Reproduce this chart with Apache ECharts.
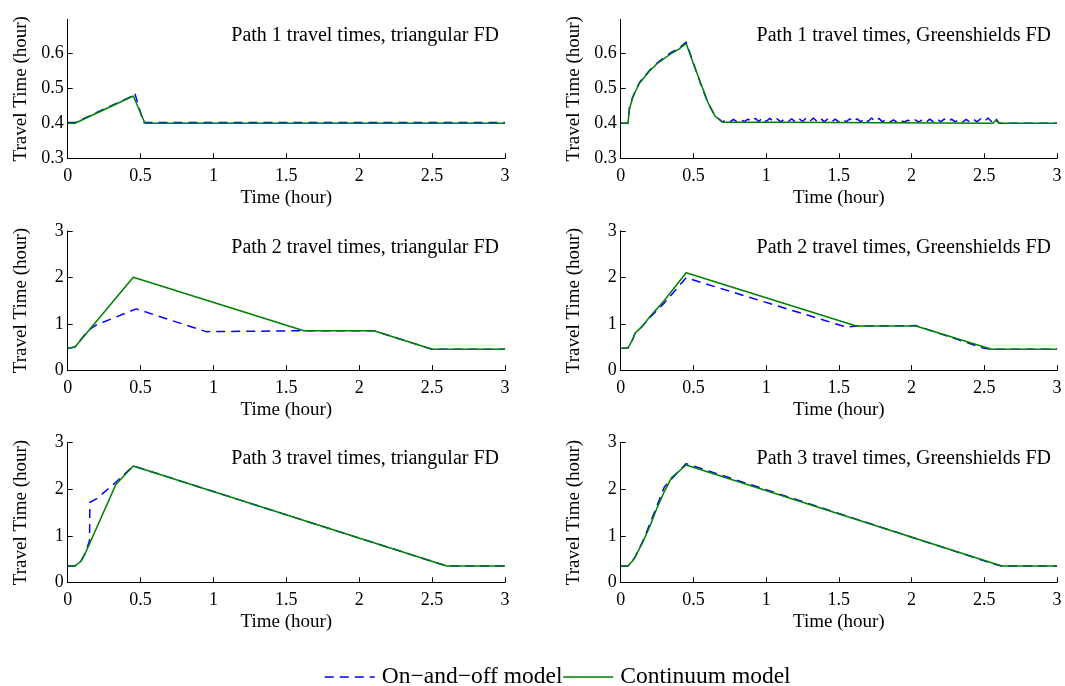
<!DOCTYPE html>
<html>
<head>
<meta charset="utf-8">
<script src="https://cdn.jsdelivr.net/npm/echarts@6/dist/echarts.min.js"></script>
<style>html,body{margin:0;padding:0;background:#fff;}#c{width:1065px;height:686px;}</style>
</head>
<body>
<div id="c"></div>
<script>
// ---- data ----
const seriesNames = ['On\u2212and\u2212off model', 'Continuum model'];
const panelTitles = [
  'Path 1 travel times, triangular FD', 'Path 1 travel times, Greenshields FD',
  'Path 2 travel times, triangular FD', 'Path 2 travel times, Greenshields FD',
  'Path 3 travel times, triangular FD', 'Path 3 travel times, Greenshields FD'
];
const xTicks = [0, 0.5, 1, 1.5, 2, 2.5, 3];
const yTicksPath1 = [0.3, 0.4, 0.5, 0.6];
const yTicksPath23 = [0, 1, 2, 3];

// Path 1, triangular
const p1TriOnOff = [[0,0.402],[0.05,0.402],[0.45,0.479],[0.46,0.486],[0.52,0.402],[3,0.402]];
const p1TriCont  = [[0,0.4],[0.05,0.4],[0.45,0.478],[0.53,0.4],[3,0.4]];

// Path 1, Greenshields
const p1GsOnOff = [[0,0.4],[0.05,0.4],[0.06,0.445],[0.08,0.472],[0.1,0.492],[0.13,0.517],[0.17,0.537],
  [0.2,0.552],[0.25,0.572],[0.3,0.588],[0.35,0.603],[0.4,0.614],[0.45,0.632],[0.5,0.572],[0.55,0.512],
  [0.6,0.458],[0.65,0.42],[0.7,0.404],[0.725,0.410],[0.75,0.404],[0.775,0.411],[0.8,0.404],[0.825,0.412],
  [0.85,0.405],[0.875,0.412],[0.9,0.405],[0.925,0.414],[0.95,0.405],[0.975,0.416],[1.0,0.405],[1.025,0.414],
  [1.05,0.405],[1.075,0.413],[1.1,0.404],[1.125,0.412],[1.15,0.404],[1.175,0.413],[1.2,0.404],[1.225,0.414],
  [1.25,0.405],[1.275,0.415],[1.3,0.405],[1.325,0.415],[1.35,0.405],[1.375,0.414],[1.4,0.404],[1.425,0.413],
  [1.45,0.404],[1.475,0.412],[1.5,0.404],[1.525,0.412],[1.55,0.404],[1.575,0.413],[1.6,0.404],[1.625,0.413],
  [1.65,0.404],[1.675,0.414],[1.7,0.405],[1.725,0.415],[1.75,0.405],[1.775,0.414],[1.8,0.404],[1.825,0.412],
  [1.85,0.403],[1.875,0.410],[1.9,0.403],[1.925,0.409],[1.95,0.403],[1.975,0.409],[2.0,0.403],[2.025,0.410],
  [2.05,0.403],[2.075,0.411],[2.1,0.403],[2.125,0.412],[2.15,0.404],[2.175,0.413],[2.2,0.404],[2.225,0.412],
  [2.25,0.404],[2.275,0.412],[2.3,0.404],[2.325,0.411],[2.35,0.403],[2.375,0.411],[2.4,0.404],[2.425,0.412],
  [2.45,0.404],[2.475,0.413],[2.5,0.405],[2.525,0.415],[2.55,0.405],[2.575,0.416],[2.6,0.401],[2.62,0.4],[3,0.4]];
const p1GsCont = [[0,0.4],[0.05,0.4],[0.06,0.44],[0.08,0.47],[0.1,0.49],[0.13,0.515],[0.17,0.535],
  [0.2,0.55],[0.25,0.57],[0.3,0.585],[0.35,0.6],[0.4,0.612],[0.45,0.628],[0.5,0.57],[0.55,0.515],
  [0.6,0.46],[0.65,0.42],[0.7,0.403],[1.07,0.403],[1.08,0.4],[2.56,0.4],[2.58,0.409],[2.6,0.4],[3,0.4]];

// Path 2, triangular
const p2TriOnOff = [[0,0.47],[0.05,0.5],[0.1,0.7],[0.15,0.88],[0.2,0.98],[0.47,1.32],[0.95,0.83],[1.62,0.85],
  [2.1,0.85],[2.5,0.45],[3,0.45]];
const p2TriCont  = [[0,0.47],[0.05,0.5],[0.45,2.0],[1.62,0.85],[2.1,0.85],[2.5,0.45],[3,0.45]];

// Path 2, Greenshields
const p2GsOnOff = [[0,0.47],[0.05,0.48],[0.08,0.65],[0.1,0.8],[0.15,0.95],[0.2,1.13],[0.3,1.45],[0.45,1.99],
  [1.55,0.93],[1.62,0.95],[2.03,0.96],[2.5,0.47],[2.55,0.45],[3,0.45]];
const p2GsCont  = [[0,0.47],[0.05,0.48],[0.08,0.65],[0.1,0.8],[0.15,0.95],[0.2,1.15],[0.3,1.5],[0.45,2.1],
  [1.62,0.95],[2.03,0.95],[2.55,0.45],[3,0.45]];

// Path 3, triangular
const p3TriOnOff = [[0,0.35],[0.05,0.35],[0.09,0.45],[0.12,0.62],[0.15,0.9],[0.152,1.72],[0.2,1.8],[0.33,2.15],
  [0.45,2.5],[2.6,0.35],[3,0.35]];
const p3TriCont  = [[0,0.35],[0.05,0.35],[0.09,0.45],[0.12,0.62],[0.33,2.1],[0.45,2.5],[2.6,0.35],[3,0.35]];

// Path 3, Greenshields
const p3GsOnOff = [[0,0.35],[0.05,0.35],[0.08,0.45],[0.1,0.55],[0.15,0.87],[0.2,1.25],[0.25,1.65],[0.3,2.05],
  [0.33,2.15],[0.35,2.22],[0.45,2.55],[1.0,1.99],[1.5,1.48],[2.0,0.97],[2.59,0.37],[2.62,0.35],[3,0.35]];
const p3GsCont  = [[0,0.35],[0.05,0.35],[0.08,0.45],[0.1,0.55],[0.15,0.85],[0.2,1.2],[0.25,1.6],[0.3,1.95],
  [0.35,2.25],[0.45,2.52],[2.62,0.35],[3,0.35]];

const panelData = [
  [p1TriOnOff, p1TriCont], [p1GsOnOff, p1GsCont],
  [p2TriOnOff, p2TriCont], [p2GsOnOff, p2GsCont],
  [p3TriOnOff, p3TriCont], [p3GsOnOff, p3GsCont]
];

// ---- layout ----
const FONT = '"Liberation Serif", "DejaVu Serif", serif';
const colLeft = [67.7, 620.7];
const colWidth = [437.3, 436.3];
const rowTop = [19.3, 230.9, 442.7];
const rowHeight = [139, 139.3, 139.6];
const titleRight = [566, 14];
const titleTop = [26, 238, 449];

const grids = [], xAxes = [], yAxes = [], series = [], titles = [];
for (let i = 0; i < 6; i++) {
  const r = Math.floor(i / 2), c = i % 2;
  grids.push({ left: colLeft[c], top: rowTop[r], width: colWidth[c], height: rowHeight[r], containLabel: false });
  xAxes.push({
    type: 'value', gridIndex: i, min: xTicks[0], max: xTicks[xTicks.length - 1], interval: 0.5,
    name: 'Time (hour)', nameLocation: 'middle', nameGap: 30,
    nameTextStyle: { fontFamily: FONT, fontSize: 19, color: '#000' },
    axisLine: { onZero: false, lineStyle: { color: '#000', width: 1 } },
    axisTick: { inside: true, length: 5, lineStyle: { color: '#000' } },
    axisLabel: { fontFamily: FONT, fontSize: 18, color: '#000', margin: 9 },
    splitLine: { show: false }
  });
  const isP1 = r === 0;
  const yt = isP1 ? yTicksPath1 : yTicksPath23;
  yAxes.push({
    type: 'value', gridIndex: i,
    min: yt[0], max: isP1 ? 0.697 : yt[yt.length - 1], interval: isP1 ? 0.1 : 1,
    name: 'Travel Time (hour)', nameLocation: 'middle', nameGap: 37,
    nameTextStyle: { fontFamily: FONT, fontSize: 19, color: '#000' },
    axisLine: { show: true, onZero: false, lineStyle: { color: '#000', width: 1 } },
    axisTick: { show: true, inside: true, length: 5, lineStyle: { color: '#000' } },
    axisLabel: { fontFamily: FONT, fontSize: 18, color: '#000', margin: 4, showMaxLabel: !isP1,
      formatter: v => isP1 ? v.toFixed(1) : String(v) },
    splitLine: { show: false }
  });
  titles.push({
    text: panelTitles[i], right: titleRight[c], top: titleTop[r], padding: 0,
    textStyle: { fontFamily: FONT, fontSize: 20, fontWeight: 'normal', color: '#000' }
  });
  series.push({
    name: seriesNames[0], type: 'line', xAxisIndex: i, yAxisIndex: i, data: panelData[i][0],
    symbol: 'none', lineStyle: { color: '#0000ff', width: 1.5, type: [9, 6] }, itemStyle: { color: '#0000ff' }, z: 2
  });
  series.push({
    name: seriesNames[1], type: 'line', xAxisIndex: i, yAxisIndex: i, data: panelData[i][1],
    symbol: 'none', lineStyle: { color: '#008000', width: 1.5 }, itemStyle: { color: '#008000' }, z: 3
  });
}

const chart = echarts.init(document.getElementById('c'), null, { renderer: 'canvas' });
chart.setOption({
  animation: false,
  backgroundColor: '#fff',
  title: titles,
  grid: grids,
  xAxis: xAxes,
  yAxis: yAxes,
  legend: {
    data: seriesNames, left: 324, top: 665, itemWidth: 50, itemHeight: 10, itemGap: 0, padding: 0,
    itemStyle: { opacity: 0 },
    lineStyle: { width: 1.5 },
    textStyle: { fontFamily: FONT, fontSize: 23.5, color: '#000', padding: [0, 0, 0, 2] }
  },
  series: series
});
</script>
</body>
</html>
